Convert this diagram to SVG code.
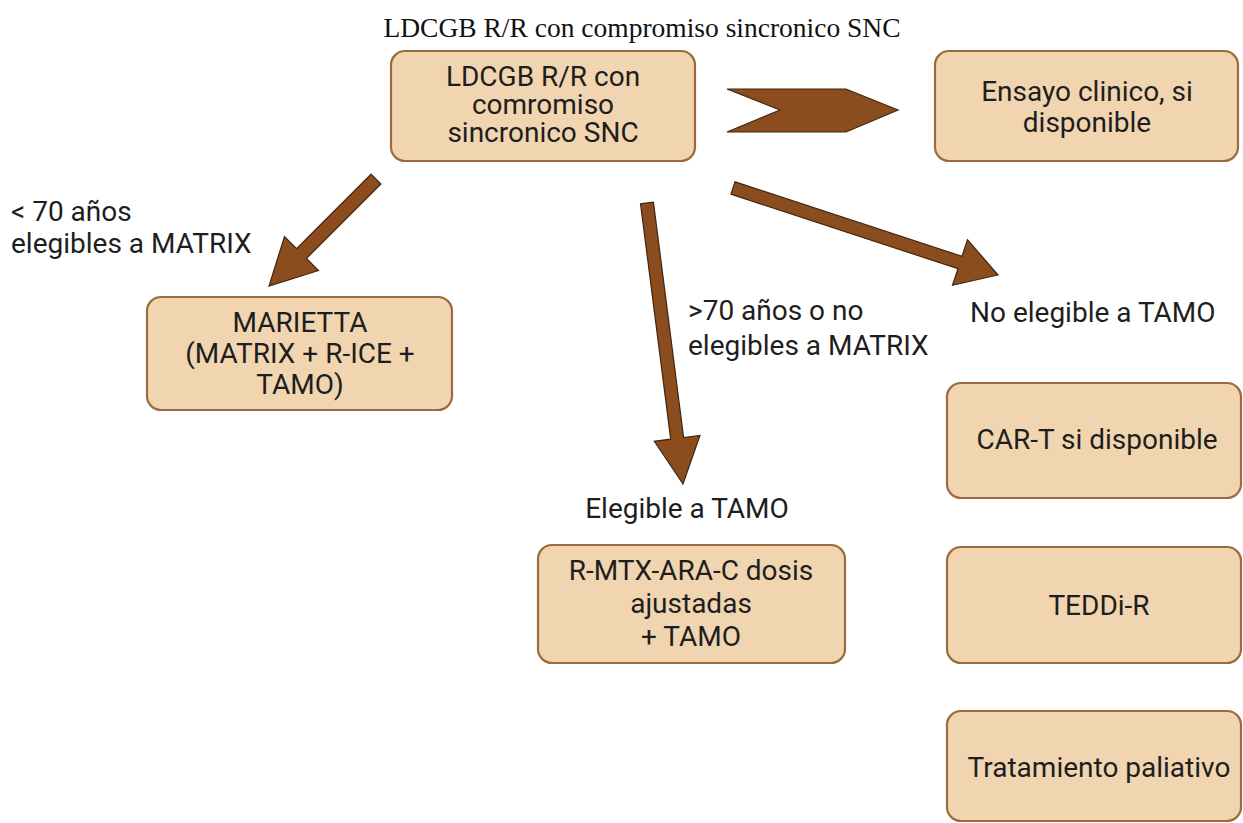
<svg xmlns="http://www.w3.org/2000/svg" width="1243" height="823" viewBox="0 0 1243 823">
  <style>
    .box { fill: #f1d5b0; stroke: #9b6a3e; stroke-width: 2.2; }
    .lbl { font-family: Roboto, "Liberation Sans", sans-serif; font-size: 28px; fill: #1e1e1e; }
    .mid { text-anchor: middle; }
    .arrow { fill: #8c4d1e; stroke: #3d2612; stroke-width: 1.2; stroke-linejoin: miter; }
    .title { font-family: "Liberation Serif", serif; font-size: 27.5px; fill: #111; text-anchor: middle; }
  </style>
  <rect width="1243" height="823" fill="#ffffff"/>

  <text class="title" x="642" y="37">LDCGB R/R con compromiso sincronico SNC</text>

  <!-- connectors -->
  <g id="connectors">
    <polygon class="arrow" points="727,89 846,89 898,110 846,132 727,132 780,110"/>
    <polygon class="arrow" points="371.05,174.05 296.55,248.55 284.5,236.5 269,286 318.5,270.5 306.45,258.45 380.95,183.95"/>
    <polygon class="arrow" points="640.55,203.83 670.7,439.2 654.34,441.29 683,484 699.96,435.45 683.6,437.54 653.45,202.17"/>
    <polygon class="arrow" points="730.97,194.18 958,268.7 952.5,285.3 998,275 967.5,239.7 962,256.3 735.03,181.82"/>
  </g>

  <!-- branch labels -->
  <g id="labels" class="lbl">
    <text x="11" y="221">&lt; 70 años</text>
    <text x="11" y="253">elegibles a MATRIX</text>
    <text x="688" y="320">&gt;70 años o no</text>
    <text x="688" y="355">elegibles a MATRIX</text>
    <text x="970" y="322">No elegible a TAMO</text>
    <text class="mid" x="687" y="518">Elegible a TAMO</text>
  </g>

  <g id="node-start">
    <rect class="box" x="391" y="51" width="304" height="110" rx="14"/>
    <text class="lbl mid" x="543" y="86">LDCGB R/R con</text>
    <text class="lbl mid" x="543" y="114">comromiso</text>
    <text class="lbl mid" x="543" y="142">sincronico SNC</text>
  </g>

  <g id="node-ensayo">
    <rect class="box" x="935" y="51" width="303" height="110" rx="14"/>
    <text class="lbl mid" x="1087" y="101">Ensayo clinico, si</text>
    <text class="lbl mid" x="1087" y="132">disponible</text>
  </g>

  <g id="node-marietta">
    <rect class="box" x="147" y="297" width="305" height="113" rx="14"/>
    <text class="lbl mid" x="300" y="332">MARIETTA</text>
    <text class="lbl mid" x="300" y="363">(MATRIX + R-ICE +</text>
    <text class="lbl mid" x="300" y="394">TAMO)</text>
  </g>

  <g id="node-rmtx">
    <rect class="box" x="538" y="545" width="307" height="118" rx="14"/>
    <text class="lbl mid" x="691" y="580">R-MTX-ARA-C dosis</text>
    <text class="lbl mid" x="691" y="613">ajustadas</text>
    <text class="lbl mid" x="691" y="646">+ TAMO</text>
  </g>

  <g id="node-cart">
    <rect class="box" x="947" y="383" width="294" height="115" rx="14"/>
    <text class="lbl mid" x="1097" y="449">CAR-T si disponible</text>
  </g>

  <g id="node-teddi">
    <rect class="box" x="947" y="547" width="294" height="116" rx="14"/>
    <text class="lbl mid" x="1099" y="615">TEDDi-R</text>
  </g>

  <g id="node-paliativo">
    <rect class="box" x="947" y="711" width="294" height="110" rx="14"/>
    <text class="lbl mid" x="1099" y="777">Tratamiento paliativo</text>
  </g>
</svg>
